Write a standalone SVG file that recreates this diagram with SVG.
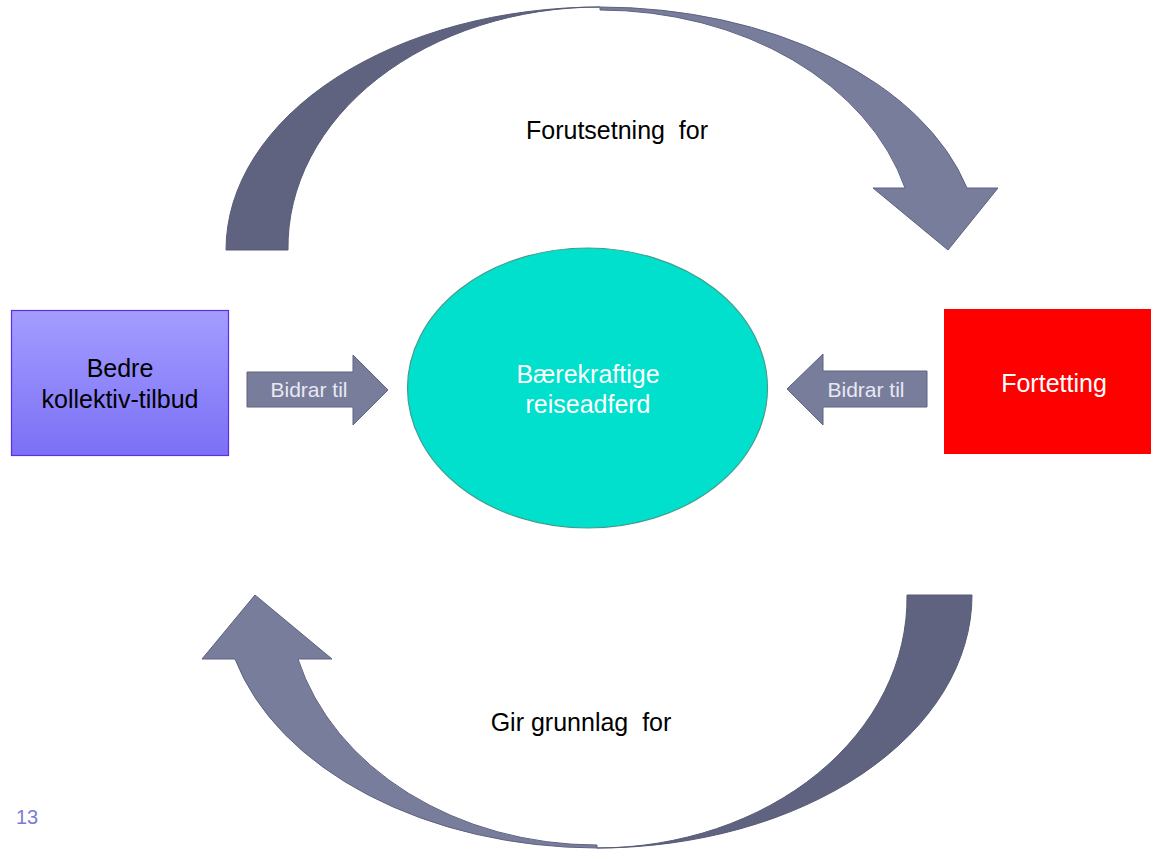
<svg xmlns="http://www.w3.org/2000/svg" width="1151" height="852" viewBox="0 0 1151 852">
<style>
  text { font-family: "Liberation Sans", Arial, sans-serif; }
  .lbl { font-size: 25px; fill: #000; text-anchor: middle; }
  .wlbl { font-size: 25px; fill: #fff; text-anchor: middle; }
  .small { font-size: 21px; fill: #e8e8f2; text-anchor: middle; }
  .dark { fill: #5f6380; stroke: #565a76; stroke-width: 1; }
  .light { fill: #797d9c; stroke: #5e6280; stroke-width: 1; }
  .pg { font-size: 20px; fill: #7b7bd8; }
</style>
<defs>
  <linearGradient id="blueGrad" x1="0" y1="0" x2="0" y2="1">
    <stop offset="0" stop-color="#a39dff"/>
    <stop offset="1" stop-color="#7b70f6"/>
  </linearGradient>
</defs>
<rect width="1151" height="852" fill="#fff"/>

<g id="connectors">
  <g id="top-arrow">
    <path class="dark" d="M226,250 A374,243 0 0 1 600,7 A312,240 0 0 0 288,250 Z"/>
    <path class="light" d="M600,7 A380,243 0 0 1 967,188 L998,188 L948,250 L873,188 L905,188 A316,240 0 0 0 600,10 Z"/>
    <text class="lbl" x="617" y="139" xml:space="preserve">Forutsetning  for</text>
  </g>
  <g id="bottom-arrow">
    <path class="dark" d="M972,595 A375,253 0 0 1 597,848 A310,250 0 0 0 907,595 Z"/>
    <path class="light" d="M597,848 A375,253 0 0 1 235,659 L202,659 L255,595 L332,659 L298,659 A309,250 0 0 0 597,845 Z"/>
    <text class="lbl" x="581" y="731" xml:space="preserve">Gir grunnlag  for</text>
  </g>
  <g id="arrow-left-to-center">
    <path class="light" d="M247,372 L353,372 L353,355 L388,390 L353,425 L353,407 L247,407 Z"/>
    <text class="small" x="309" y="397">Bidrar til</text>
  </g>
  <g id="arrow-right-to-center">
    <path class="light" d="M927,371 L823,371 L823,354 L787,389 L823,425 L823,407 L927,407 Z"/>
    <text class="small" x="866" y="397">Bidrar til</text>
  </g>
</g>

<g id="node-kollektiv">
  <rect x="11.5" y="310.5" width="217" height="145" fill="url(#blueGrad)" stroke="#5b2ee8" stroke-width="1.2"/>
  <text class="lbl" x="120" y="377">Bedre</text>
  <text class="lbl" x="120" y="408">kollektiv-tilbud</text>
</g>

<g id="node-reiseadferd">
  <ellipse cx="587.5" cy="388" rx="180" ry="140" fill="#00e0cc" stroke="#3f9e8f" stroke-width="1.2"/>
  <text class="wlbl" x="588" y="383">Bærekraftige</text>
  <text class="wlbl" x="588" y="413">reiseadferd</text>
</g>

<g id="node-fortetting">
  <rect x="944" y="309" width="207" height="145" fill="#ff0000"/>
  <text class="wlbl" x="1054" y="392">Fortetting</text>
</g>

<text class="pg" x="16" y="824">13</text>
</svg>
